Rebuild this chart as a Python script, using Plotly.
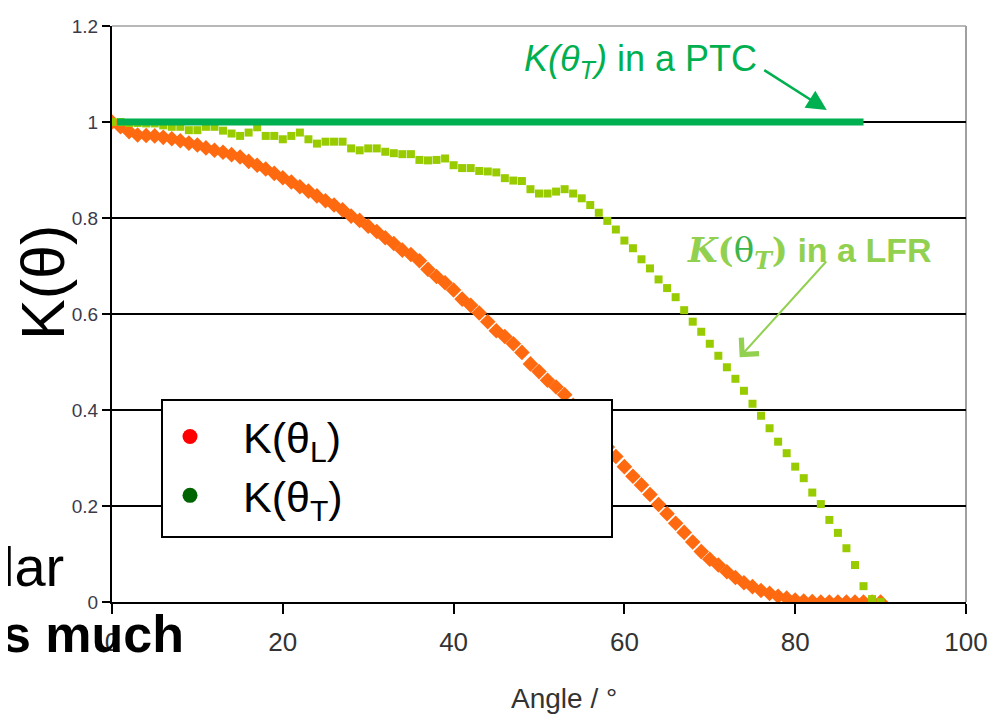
import plotly.graph_objects as go

# ---------------- data ----------------
angle = [0, 1, 2, 3, 4, 5, 6, 7, 8, 9,
         10, 11, 12, 13, 14, 15, 16, 17, 18, 19,
         20, 21, 22, 23, 24, 25, 26, 27, 28, 29,
         30, 31, 32, 33, 34, 35, 36, 37, 38, 39,
         40, 41, 42, 43, 44, 45, 46, 47, 48, 49,
         50, 51, 52, 53, 54, 55, 56, 57, 58, 59,
         60, 61, 62, 63, 64, 65, 66, 67, 68, 69,
         70, 71, 72, 73, 74, 75, 76, 77, 78, 79,
         80, 81, 82, 83, 84, 85, 86, 87, 88, 89, 90]

k_long = [1.000, 0.990, 0.980, 0.973, 0.972, 0.971, 0.968, 0.965, 0.961, 0.956,
          0.952, 0.946, 0.941, 0.937, 0.932, 0.927, 0.918, 0.910, 0.902, 0.893,
          0.884, 0.875, 0.865, 0.856, 0.846, 0.836, 0.827, 0.817, 0.804, 0.795,
          0.783, 0.772, 0.759, 0.747, 0.733, 0.724, 0.711, 0.693, 0.678, 0.665,
          0.650, 0.631, 0.618, 0.602, 0.584, 0.565, 0.553, 0.538, 0.520, 0.496,
          0.480, 0.462, 0.448, 0.432, 0.410, 0.388, 0.366, 0.344, 0.323, 0.303,
          0.282, 0.262, 0.244, 0.224, 0.203, 0.184, 0.164, 0.145, 0.125, 0.105,
          0.089, 0.077, 0.063, 0.051, 0.040, 0.032, 0.024, 0.018, 0.012, 0.008,
          0.004, 0.002, 0.001, 0.000, 0.000, 0.000, 0.000, 0.000, 0.000, 0.000, 0.000]

k_trans_lfr = [1.000, 1.000, 0.998, 0.998, 0.997, 0.997, 0.993, 0.990, 0.990, 0.983,
               0.983, 0.990, 0.990, 0.982, 0.976, 0.971, 0.978, 0.989, 0.971, 0.971,
               0.964, 0.971, 0.978, 0.964, 0.955, 0.959, 0.959, 0.959, 0.945, 0.941,
               0.945, 0.945, 0.938, 0.935, 0.933, 0.933, 0.921, 0.920, 0.921, 0.924,
               0.910, 0.904, 0.904, 0.898, 0.897, 0.895, 0.883, 0.878, 0.877, 0.860,
               0.851, 0.851, 0.855, 0.860, 0.851, 0.841, 0.827, 0.811, 0.794, 0.776,
               0.753, 0.737, 0.714, 0.695, 0.672, 0.654, 0.635, 0.608, 0.584, 0.563,
               0.538, 0.513, 0.489, 0.465, 0.440, 0.413, 0.388, 0.362, 0.334, 0.310,
               0.282, 0.258, 0.228, 0.204, 0.171, 0.144, 0.112, 0.077, 0.033, 0.006, 0.000]

ptc_angle = [0.6, 88]
k_trans_ptc = [1.0, 1.0]

x_ticks = [0, 20, 40, 60, 80, 100]
y_ticks = [0, 0.2, 0.4, 0.6, 0.8, 1, 1.2]
y_tick_text = ["0", "0.2", "0.4", "0.6", "0.8", "1", "1.2"]

legend_names = ["K(θ<sub>L</sub>)", "K(θ<sub>T</sub>)"]
legend_colors = ["#FF0000", "#006400"]

SANS = "Liberation Sans, Arial, sans-serif"
NARROW = "Liberation Sans Narrow, Arial Narrow, Liberation Sans, Arial, sans-serif"

# plot area in page pixels (reference): x 112..966, y 26..602
def px(xp):
    return (xp - 112) / 854.0

def py(yp):
    return (602 - yp) / 576.0

fig = go.Figure()

# data traces
fig.add_trace(go.Scatter(x=angle, y=k_long, mode="markers", showlegend=False,
                         marker=dict(symbol="diamond", size=12, color="#FF6A10"),
                         hoverinfo="x+y"))
fig.add_trace(go.Scatter(x=angle, y=k_trans_lfr, mode="markers", showlegend=False,
                         marker=dict(symbol="square", size=8, color="#99CC00"),
                         hoverinfo="x+y"))
fig.add_trace(go.Scatter(x=ptc_angle, y=k_trans_ptc, mode="lines", showlegend=False,
                         line=dict(color="#00B050", width=7), hoverinfo="x+y"))

# legend entries
for i, (name, col) in enumerate(zip(legend_names, legend_colors)):
    fig.add_trace(go.Scatter(x=[None], y=[None], mode="markers", name=name,
                             legendgroup="g%d" % i,
                             marker=dict(symbol="circle", size=15, color=col)))

# annotations
ann = []
ann.append(dict(x=61.9, y=1.128, xref="x", yref="y", showarrow=False,
                xanchor="center", yanchor="middle",
                text="<i>K(θ<sub>T</sub>)</i> in a PTC",
                font=dict(size=36, color="#00B050", family=SANS)))
ann.append(dict(x=83.7, y=1.025, xref="x", yref="y", ax=76.2, ay=1.110,
                axref="x", ayref="y", text="", showarrow=True,
                arrowhead=2, arrowsize=1.6, arrowwidth=2.5, arrowcolor="#00B050"))
ann.append(dict(x=81.7, y=0.729, xref="x", yref="y", showarrow=False,
                xanchor="center", yanchor="middle",
                text="<span style='font-family:DejaVu Serif'><i>K</i>(<span style='color:#3DB54A;font-weight:normal'>θ</span><sub><i>T</i></sub>)</span> in a LFR",
                font=dict(size=34, color="#92D050", family=SANS, weight="bold")))
ann.append(dict(x=73.5, y=0.51, xref="x", yref="y", ax=83.8, ay=0.7125,
                axref="x", ayref="y", text="", showarrow=True,
                arrowhead=4, arrowsize=2.3, arrowwidth=2, arrowcolor="#92D050"))
# axis titles
ann.append(dict(x=px(43), y=py(283), xref="paper", yref="paper", showarrow=False,
                xanchor="center", yanchor="middle",
                text="K(θ)", textangle=-90,
                font=dict(size=61, color="black", family=SANS)))
ann.append(dict(x=px(564), y=py(698), xref="paper", yref="paper",
                xanchor="center", yanchor="middle",
                showarrow=False, text="Angle / °",
                font=dict(size=28, color="#333333", family=NARROW)))
# slide text fragments behind the chart
ann.append(dict(x=px(0), y=py(566), xref="paper", yref="paper",
                xanchor="left", yanchor="middle", showarrow=False, text="lar",
                font=dict(size=56, color="black", family=SANS)))
ann.append(dict(x=px(0), y=py(634), xref="paper", yref="paper",
                xanchor="left", yanchor="middle", showarrow=False, text="s much",
                font=dict(size=52, color="black", family=SANS, weight="bold")))

shapes = [
    dict(type="line", xref="paper", yref="paper", x0=1, x1=1, y0=0, y1=1,
         line=dict(color="#A0A0A0", width=2), layer="below"),
    dict(type="line", xref="paper", yref="paper", x0=0, x1=1, y0=1, y1=1,
         line=dict(color="#A0A0A0", width=1.5), layer="below"),
    # legend box
    dict(type="rect", xref="paper", yref="paper", x0=px(162), x1=px(612),
         y0=py(537), y1=py(400), fillcolor="white",
         line=dict(color="black", width=2), layer="above"),
]

fig.update_layout(
    width=997, height=721,
    margin=dict(l=104, r=39, t=18, b=127),
    paper_bgcolor="white", plot_bgcolor="white",
    annotations=ann, shapes=shapes,
    legend=dict(x=px(137), y=py(402), xanchor="left", yanchor="top",
                bgcolor="rgba(0,0,0,0)", borderwidth=0,
                font=dict(size=43, color="black", family=SANS),
                itemwidth=96, itemsizing="trace", tracegroupgap=0),
    xaxis=dict(range=[0, 100], tickvals=x_ticks, showgrid=False, zeroline=False,
               showline=True, linecolor="black", linewidth=2, automargin=False,
               ticks="outside", ticklen=10, tickwidth=2, tickcolor="black",
               ticklabelstandoff=6,
               tickfont=dict(size=26, color="#333333", family=NARROW)),
    yaxis=dict(range=[0, 1.2], tickvals=y_ticks, ticktext=y_tick_text,
               showgrid=True, gridcolor="black", gridwidth=2, zeroline=False,
               showline=True, linecolor="black", linewidth=2, automargin=False,
               ticks="outside", ticklen=8, tickwidth=2, tickcolor="black",
               tickfont=dict(size=19, color="#3A3A4A", family=SANS)),
)

fig.write_html("out.html")
